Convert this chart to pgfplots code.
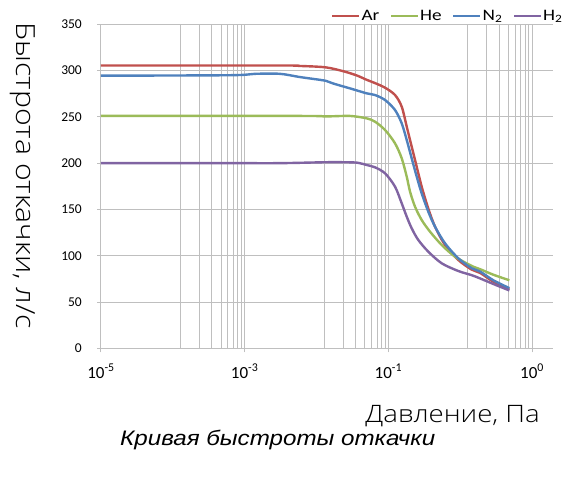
\documentclass[border=0pt]{standalone}
\usepackage{pgfplots}
\pgfplotsset{compat=1.18}
\usepackage{fontspec}
\setmainfont{Carlito}
\IfFontExistsTF{Open Sans Light}
  {\newfontfamily\labelfont[FakeStretch=1.15]{Open Sans Light}}
  {\newfontfamily\labelfont[FakeStretch=1.15]{Open Sans}}
\newfontfamily\titlefont[FakeStretch=1.15]{Liberation Sans}
\newfontfamily\legfont[FakeStretch=1.2]{Carlito}
\definecolor{gridc}{RGB}{191,191,191}
\definecolor{arc}{RGB}{192,80,77}
\definecolor{hec}{RGB}{155,187,89}
\definecolor{nc}{RGB}{79,129,189}
\definecolor{hc}{RGB}{128,100,162}
\begin{document}
\begin{tikzpicture}[x=1pt,y=1pt]
\useasboundingbox (-101,-138.7) rectangle (471,348.3);
\begin{axis}[
  scale only axis, width=451.7pt, height=324pt,
  at={(0,0)}, anchor=south west,
  xmode=log, xmin=1e-5, xmax=19.4, ymin=0, ymax=350,
  xtick={1e-5,1e-3,1e-1,1e1},
  xticklabels={10\textsuperscript{-5},10\textsuperscript{-3},10\textsuperscript{-1},10\textsuperscript{0}},
  minor xtick={1.28e-4,2.34e-4,3.48e-4,4.70e-4,5.83e-4,6.98e-4,8.05e-4,9.04e-4,
               1.28e-2,2.34e-2,3.48e-2,4.70e-2,5.83e-2,6.98e-2,8.05e-2,9.04e-2,
               1.28,2.34,3.48,4.70,5.83,6.98,8.05,9.04},
  ytick={0,50,...,350},
  grid=both,
  major grid style={draw=gridc, line width=1pt},
  minor grid style={draw=gridc, line width=1pt},
  axis lines*=left,
  axis line style={draw=gridc, line width=1pt, -},
  tick align=outside,
  major tick length=4pt, minor tick length=0pt,
  tick style={draw=gridc, line width=1pt},
  /pgf/number format/assume math mode=true,
  yticklabel style={font=\fontsize{13.5}{16}\selectfont, anchor=east, inner sep=0pt, xshift=-15pt},
  xticklabel style={font=\fontsize{17}{20}\selectfont, anchor=base, inner sep=0pt, yshift=-25.7pt},
  legend columns=-1,
  legend style={at={(axis description cs:0.509,1.0265)}, anchor=west, draw=none, fill=none,
     inner sep=0pt, font=\legfont\fontsize{16}{19}\selectfont, nodes={inner sep=1pt},
     /tikz/every even column/.append style={column sep=9.5pt}},
  legend image code/.code={\draw[#1] (0pt,0pt) -- (27pt,0pt);},
  every axis plot/.append style={line width=2.4pt, smooth},
]
\addplot[arc] coordinates {
(1e-5,305.5) (3.10e-3,305.5) (5.89e-3,305) (1.343e-2,303.5) (2.44e-2,299)
(3.70e-2,294.5) (5.00e-2,290) (6.52e-2,286.5) (9.00e-2,281.5) (0.1239,273.6)
(0.1535,261) (0.1803,239.4) (0.2113,217.8) (0.2483,196) (0.2911,174.6)
(0.3597,151) (0.4467,131.3) (0.6152,111.6) (0.9419,95.4) (1.4454,85)
(1.888,81.5) (2.891,72) (4.831,64)
};
\addlegendentry{Ar}
\addplot[hec] coordinates {
(1e-5,251) (5.89e-3,251) (1.343e-2,250.5) (2.92e-2,251) (5.00e-2,248.4)
(6.52e-2,244.8) (9.00e-2,235.8) (0.1239,221.4) (0.1535,205.2) (0.1803,185.4)
(0.2004,169.2) (0.2350,153) (0.2911,138.6) (0.3802,126) (0.5534,111.6)
(0.8472,99) (1.4454,89) (1.888,85.5) (2.891,79.5) (4.831,73.5)
};
\addlegendentry{He}
\addplot[nc] coordinates {
(1e-5,294.5) (6.25e-4,295) (1.39e-3,296.5) (3.10e-3,296.5) (5.89e-3,293)
(1.343e-2,289) (1.714e-2,286) (2.92e-2,280.8) (5.00e-2,275.4) (6.52e-2,273.6)
(9.00e-2,268.2) (0.1239,257.4) (0.1535,243) (0.1803,225) (0.2113,205.2)
(0.2483,185.4) (0.2911,167.4) (0.3597,147.6) (0.4467,131.3) (0.6152,113.4)
(0.9419,97.2) (1.4454,86.5) (1.888,83) (2.891,73.5) (4.831,65)
};
\addlegendentry{N\textsubscript{2}}
\addplot[hc] coordinates {
(1e-5,200) (6.25e-4,200) (3.10e-3,200) (1.343e-2,201) (2.44e-2,201)
(3.70e-2,200.5) (5.00e-2,198) (6.52e-2,195.5) (9.00e-2,189) (0.1239,174.6)
(0.1535,156.6) (0.1803,142.2) (0.2113,129.6) (0.2612,117) (0.3597,104.4)
(0.5534,91.8) (0.9419,83.5) (1.4454,79) (1.888,75.5) (2.891,69.5) (4.831,62.5)
};
\addlegendentry{H\textsubscript{2}}
\end{axis}
\node[rotate=-90, anchor=base, inner sep=0pt, font=\labelfont\fontsize{26.3}{31}\selectfont] at (-84.3,172.5) {Быстрота откачки, л/с};
\node[anchor=base east, inner sep=0pt, font=\labelfont\fontsize{24}{29}\selectfont] at (439,-74.4) {Давление, Па};
\node[anchor=base west, inner sep=0pt, font=\titlefont\itshape\fontsize{21}{25}\selectfont] at (19,-96.7) {Кривая быстроты откачки};
\end{tikzpicture}
\end{document}
